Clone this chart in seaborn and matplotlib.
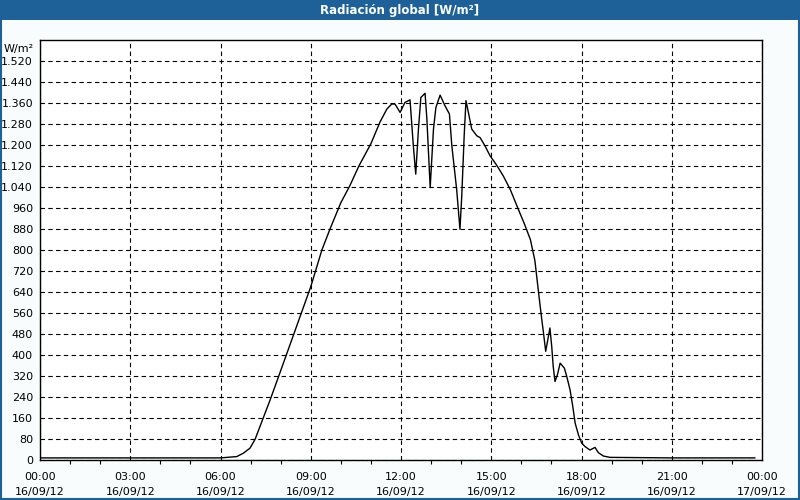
import numpy as np
import pandas as pd
import matplotlib
matplotlib.use("Agg")
import matplotlib.pyplot as plt
import seaborn as sns
from matplotlib.patches import Rectangle

# Global radiation, 16/09/12 (hour of day, W/m²)
hours = [0.0, 3.0, 6.0, 6.54, 6.76, 6.98, 7.15, 7.31, 7.48, 7.65, 8.0, 8.5, 9.0,
         9.37, 9.64, 10.0, 10.3, 10.6, 11.0, 11.3, 11.53, 11.69, 11.80, 11.97,
         12.13, 12.30, 12.41, 12.49, 12.58, 12.66, 12.80, 12.86, 12.97, 13.08,
         13.16, 13.30, 13.46, 13.61, 13.69, 13.85, 13.96, 14.02, 14.10, 14.16,
         14.24, 14.35, 14.52, 14.63, 14.79, 14.96, 15.18, 15.40, 15.63, 15.90,
         16.10, 16.30, 16.45, 16.60, 16.68, 16.73, 16.81, 16.90, 16.95, 17.01,
         17.06, 17.12, 17.20, 17.29, 17.43, 17.51, 17.62, 17.71, 17.79, 17.90,
         18.01, 18.12, 18.28, 18.45, 18.56, 18.73, 18.95, 21.0, 23.77]
radiation = [8, 8, 8, 13, 26, 45, 79, 127, 178, 229, 340, 500, 660,
             800, 880, 980, 1045, 1120, 1205, 1287, 1337, 1356, 1356, 1324,
             1362, 1372, 1197, 1089, 1261, 1381, 1397, 1299, 1038, 1261,
             1343, 1390, 1350, 1318, 1197, 1031, 879, 1006, 1235, 1369,
             1324, 1261, 1235, 1228, 1197, 1159, 1123, 1082, 1031, 955,
             900, 840, 760, 611, 535, 490, 414, 471, 503, 433,
             356, 299, 325, 369, 350, 318, 267, 204, 140, 95,
             64, 51, 38, 48, 28, 15, 10, 8, 8]

x_ticks = [0, 3, 6, 9, 12, 15, 18, 21, 24]
x_labels = ["00:00\n16/09/12", "03:00\n16/09/12", "06:00\n16/09/12",
            "09:00\n16/09/12", "12:00\n16/09/12", "15:00\n16/09/12",
            "18:00\n16/09/12", "21:00\n16/09/12", "00:00\n17/09/12"]
y_ticks = list(range(0, 1521, 80))

TITLE = "Radiación global [W/m²]"
BAR_BLUE = "#1d6198"
BG = "#f8fcfc"

sns.set_theme(style="white")
plt.rcParams.update({
    "font.family": ["DejaVu Sans"],
    "font.size": 8,
    "text.color": "black",
    "xtick.color": "black",
    "ytick.color": "black",
})

df = pd.DataFrame({"hour": hours, "value": radiation})

fig = plt.figure(figsize=(8, 5), dpi=100, facecolor=BG)
ax = fig.add_axes([0.05, 0.08, 0.9025, 0.84])
ax.set_facecolor("white")

sns.lineplot(data=df, x="hour", y="value", color="black", linewidth=1.0,
             sort=False, ax=ax)

ax.set_xlim(0, 24)
ax.set_ylim(0, 1600)
ax.set_xticks(x_ticks)
ax.set_xticklabels(x_labels, fontsize=8, linespacing=1.55)
ax.set_xticks(range(0, 25), minor=True)
ax.set_yticks(y_ticks)
ax.set_yticklabels([f"{v:,}".replace(",", ".") for v in y_ticks], fontsize=8)
ax.set_xlabel("")
ax.set_ylabel("")

ax.grid(True, which="major", color="black", linestyle=(0, (4, 3)), linewidth=0.8)
ax.tick_params(axis="both", which="major", direction="out", length=3,
               width=0.8, color="black", labelcolor="black", pad=2)
ax.tick_params(axis="x", which="minor", direction="out", length=3,
               width=0.8, color="black", bottom=True)
ax.tick_params(axis="x", pad=6)
for sp in ax.spines.values():
    sp.set_color("black")
    sp.set_linewidth(1.0)

ax.text(-0.008, 0.99, "W/m²", transform=ax.transAxes, ha="right", va="top",
        fontsize=8, color="black")

# title bar and window frame
fig.patches.append(Rectangle((0, 0.96), 1, 0.04, transform=fig.transFigure,
                             facecolor=BAR_BLUE, edgecolor="none", zorder=0))
fig.patches.append(Rectangle((0.001, 0.002), 0.998, 0.996, transform=fig.transFigure,
                             facecolor="none", edgecolor=BAR_BLUE, linewidth=1.5,
                             zorder=1))
fig.text(0.5, 0.979, TITLE, ha="center", va="center", color="white",
         fontsize=8.5, fontweight="bold")

fig.savefig("out.png", dpi=100, facecolor=BG)
